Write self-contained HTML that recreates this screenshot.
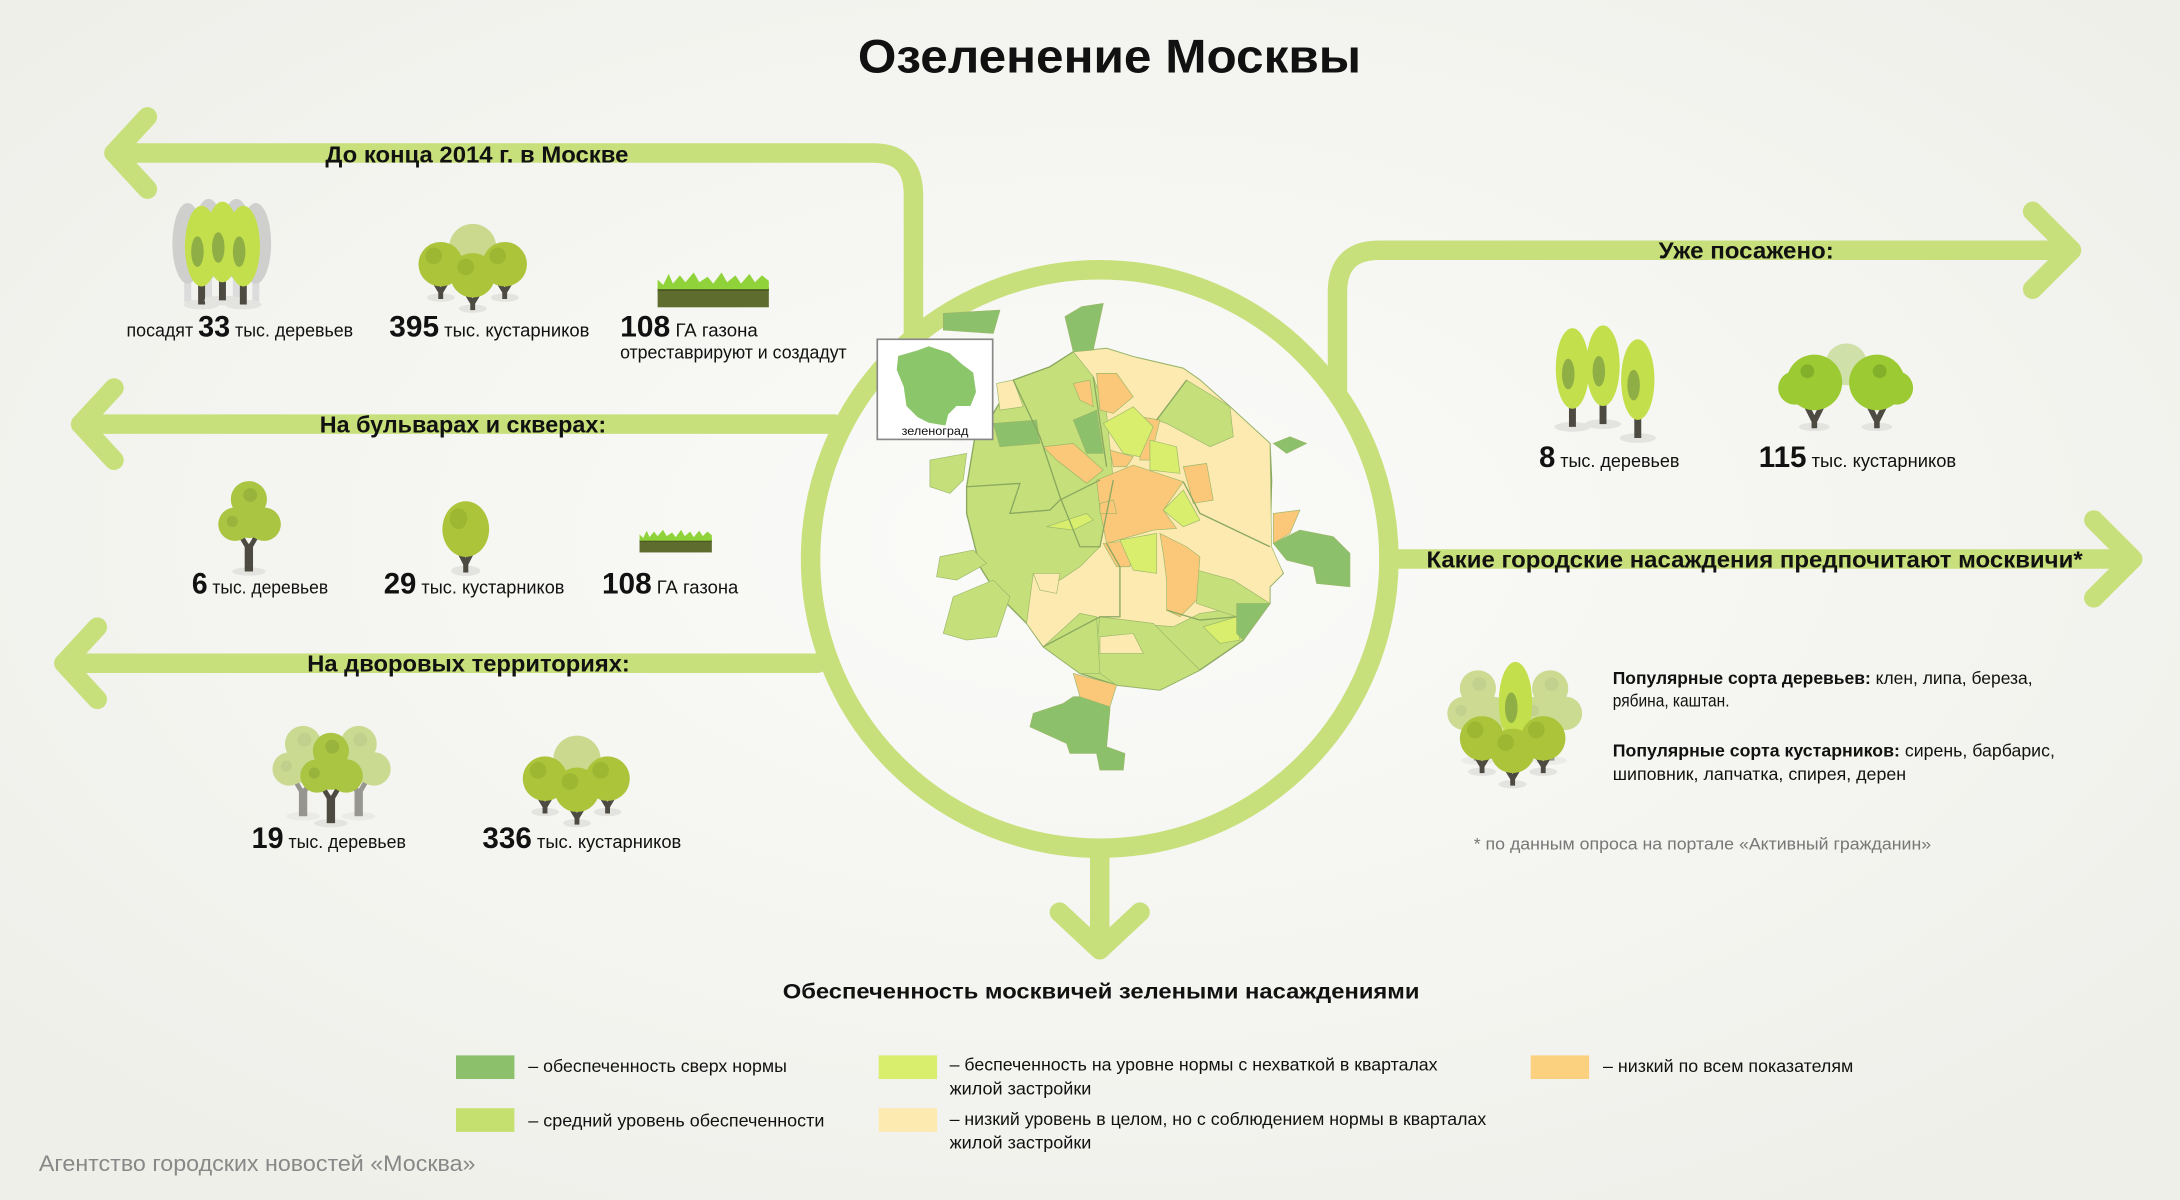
<!DOCTYPE html>
<html><head><meta charset="utf-8"><style>
html,body{margin:0;padding:0;background:#f3f3ef}
svg{display:block}
text{font-family:"Liberation Sans","DejaVu Sans",sans-serif;fill:#111}
.b{font-weight:bold}
</style></head><body>
<svg width="2180" height="1200" viewBox="0 0 1568 863" preserveAspectRatio="none" xmlns="http://www.w3.org/2000/svg">
<defs>
<radialGradient id="bg" cx="50%" cy="45%" r="65%">
<stop offset="0" stop-color="#fbfbf9"/><stop offset="1" stop-color="#efefea"/></radialGradient>
<g id="pop"><ellipse cx="0" cy="2" rx="13" ry="3.5" fill="#e3e3e0"/><rect x="-2.5" y="-18" width="5" height="20" fill="#4d4a42"/><path d="M0 -12 L5 -20" stroke="#4d4a42" stroke-width="3"/><ellipse cx="0" cy="-40" rx="12" ry="29" fill="#c3df4c"/><ellipse cx="-3" cy="-36" rx="4.5" ry="11" fill="#8fae45"/></g>
<g id="gpop"><rect x="-2.5" y="-18" width="5" height="20" fill="#dcdcdc"/><ellipse cx="0" cy="-40" rx="11" ry="29" fill="#cfcfcd"/></g>
<g id="shr"><ellipse cx="0" cy="2" rx="10" ry="3" fill="#e3e3e0"/><path d="M-6 -12 L0 -2 L6 -12 M0 -2 L0 3" stroke="#4d4a42" stroke-width="3.5" fill="none"/><circle cx="0" cy="-22" r="16" fill="#abc43a"/><circle cx="-5" cy="-28" r="6" fill="#9db733"/></g>
<g id="lshr"><circle cx="0" cy="-22" r="17" fill="#cbd98f"/></g>
<g id="rtree"><ellipse cx="0" cy="2" rx="12" ry="3" fill="#e3e3e0"/><rect x="-3" y="-18" width="6" height="20" fill="#4d4a42"/><path d="M0 -14 L-6 -24 M0 -14 L7 -26" stroke="#4d4a42" stroke-width="3.5"/><circle cx="0" cy="-50" r="13" fill="#a9c542"/><circle cx="-10" cy="-32" r="12" fill="#a9c542"/><circle cx="11" cy="-32" r="12" fill="#a9c542"/><circle cx="0" cy="-36" r="14" fill="#a9c542"/><circle cx="1" cy="-53" r="5" fill="#98b43c"/><circle cx="-12" cy="-34" r="4" fill="#98b43c"/></g>
<g id="grass"><rect x="0" y="8" width="80" height="14" fill="#5e6c2e"/><rect x="0" y="8" width="80" height="2" fill="#3e4a1c"/><path d="M0 9 L0 2 L4 6 L8 -2 L11 5 L16 -1 L20 4 L26 -3 L30 4 L36 0 L40 5 L46 -3 L50 4 L56 -1 L60 5 L66 -2 L70 4 L75 -1 L80 3 L80 9 Z" fill="#8fd23a"/></g>
</defs>
<rect width="1568" height="863" fill="url(#bg)"/>

<!-- connectors -->
<g stroke="#c8e07b" stroke-width="14" fill="none" stroke-linecap="round" stroke-linejoin="round">
<circle cx="791" cy="402" r="208"/>
<path d="M82 110 L628 110 Q657 110 657 140 L657 252"/>
<path d="M106 84 L82 110 L106 136"/>
<path d="M58 305 L600 305"/>
<path d="M82 279 L58 305 L82 331"/>
<path d="M46 477 L588 477"/>
<path d="M70 451 L46 477 L70 503"/>
<path d="M962 282 L962 210 Q962 180 992 180 L1488 180"/>
<path d="M1462 152 L1490 180 L1462 208"/>
<path d="M999 402 L1532 402"/>
<path d="M1506 374 L1534 402 L1506 430"/>
<path d="M791 610 L791 682"/>
<path d="M762 656 L791 683 L820 656"/>
</g>

<!-- map -->
<g transform="translate(647.3,201.4) scale(0.23975)" stroke="#9bb86a" stroke-width="2">
<path d="M200 620 L230 440 L280 400 L340 300 L450 260 L520 215 L620 205 L700 230 L850 265 L900 300 L990 380 L1110 490 L1115 600 L1110 800 L1150 880 L1110 920 L1110 970 L1030 1080 L900 1170 L780 1230 L650 1215 L540 1180 L430 1100 L380 1030 L290 940 L240 860 L200 700 Z" fill="#c5e07a" stroke="#8aa860" stroke-width="4"/>
<path d="M520 215 L620 205 L700 230 L850 265 L900 300 L990 380 L1110 490 L1115 800 L1150 880 L1110 920 L1110 970 L900 1000 L820 1040 L700 1030 L600 1010 L430 1100 L380 1030 L400 880 L480 900 L540 860 L600 800 L640 600 L620 400 L580 290 Z" fill="#fdeab0"/>
<path d="M290 310 L340 300 L370 380 L300 390 Z" fill="#fdeab0"/>
<path d="M770 420 L860 300 L990 380 L1000 470 L930 500 L800 430 Z" fill="#c5e07a"/>
<path d="M600 1010 L760 1030 L900 1170 L780 1230 L650 1215 L600 1180 L590 1100 Z" fill="#c5e07a"/>
<path d="M430 1100 L540 1180 L600 1180 L590 1010 L540 1000 Z" fill="#c5e07a"/>
<path d="M890 870 L1000 900 L1110 970 L1010 1010 L890 970 Z" fill="#c5e07a"/>
<path d="M600 1070 L700 1060 L730 1120 L600 1120 Z" fill="#fdeab0"/>
<path d="M400 880 L480 880 L470 940 L420 930 Z" fill="#fdeab0"/>
<path d="M590 600 L700 555 L850 605 L790 690 L830 745 L760 750 L620 790 L600 690 Z" fill="#fbc87a"/>
<path d="M780 760 L860 800 L900 830 L890 960 L840 1010 L800 990 L800 900 L790 820 Z" fill="#fbc87a"/>
<path d="M610 790 L700 780 L690 860 L650 860 Z" fill="#fbc87a"/>
<path d="M520 310 L570 300 L580 380 L540 360 Z" fill="#fbc87a"/>
<path d="M590 280 L650 280 L700 350 L640 400 L600 390 Z" fill="#fbc87a"/>
<path d="M430 500 L520 490 L610 570 L560 610 L470 540 Z" fill="#fbc87a"/>
<path d="M720 410 L780 420 L750 540 L720 540 Z" fill="#fbc87a"/>
<path d="M850 560 L920 550 L940 660 L880 670 Z" fill="#fbc87a"/>
<path d="M630 510 L700 530 L680 560 L640 560 Z" fill="#fbc87a"/>
<path d="M600 670 L640 660 L650 700 L600 700 Z" fill="#fbc87a"/>
<path d="M610 430 L700 380 L760 440 L720 530 L670 520 Z" fill="#d8ee6c"/>
<path d="M750 480 L830 500 L840 580 L750 570 Z" fill="#d8ee6c"/>
<path d="M790 690 L850 630 L900 720 L850 740 Z" fill="#d8ee6c"/>
<path d="M440 740 L560 700 L580 720 L520 750 Z" fill="#d8ee6c"/>
<path d="M660 780 L770 760 L770 880 L700 870 Z" fill="#d8ee6c"/>
<path d="M910 1040 L1010 1010 L1020 1080 L960 1090 Z" fill="#d8ee6c"/>
<path d="M520 420 L590 390 L610 520 L560 520 Z" fill="#8cc06a"/>
<path d="M280 430 L410 420 L420 490 L300 500 Z" fill="#8cc06a"/>
<path d="M1010 970 L1110 970 L1030 1080 L1010 1060 Z" fill="#8cc06a"/>
<path d="M495 110 L545 80 L610 70 L580 210 L520 215 Z" fill="#8cc06a"/>
<path d="M130 100 L300 90 L280 160 L130 150 Z" fill="#8cc06a"/>
<path d="M1120 790 L1200 750 L1300 770 L1350 820 L1350 920 L1250 910 L1240 860 L1160 840 Z" fill="#8cc06a"/>
<path d="M1120 490 L1170 470 L1220 490 L1160 520 Z" fill="#8cc06a"/>
<path d="M520 1250 L630 1250 L630 1290 L620 1400 L675 1420 L670 1470 L600 1470 L590 1420 L510 1420 L500 1390 L390 1340 L400 1300 L490 1270 Z" fill="#8cc06a"/>
<path d="M520 1180 L650 1215 L630 1280 L540 1250 Z" fill="#fbc87a"/>
<path d="M1120 700 L1200 690 L1170 760 L1120 790 Z" fill="#fbc87a"/>
<path d="M160 420 L250 420 L240 460 L180 480 Z" fill="#fbc87a"/>
<path d="M90 540 L200 520 L190 600 L150 640 L90 620 Z" fill="#c5e07a"/>
<path d="M120 830 L220 810 L260 850 L170 900 L110 890 Z" fill="#c5e07a"/>
<path d="M160 950 L280 900 L330 950 L290 1070 L200 1080 L130 1060 Z" fill="#c5e07a"/>
<g fill="none" stroke="#8aa860" stroke-width="4">
<path d="M200 620 L360 610 L330 700 L450 690 L480 660 L600 600"/>
<path d="M340 300 L420 470 L480 650 L540 800 L600 800 L640 600"/>
<path d="M620 790 L660 860 L660 1010 L600 1010 L430 1100"/>
<path d="M850 605 L900 700 L1110 800"/>
<path d="M580 290 L620 560 M860 300 L770 420"/>
<path d="M800 990 L900 1020 L1010 1010"/>
</g>
</g>
<!-- zelenograd inset -->
<rect x="631" y="244" width="83" height="72" fill="#fff" stroke="#888" stroke-width="1.2"/>
<path d="M646 256 L660 252 L668 249 L683 254 L692 262 L700 268 L702 282 L698 292 L688 292 L682 298 L680 306 L668 304 L660 300 L652 292 L650 278 L645 266 Z" fill="#8cc66a"/>
<text x="672.5" y="313" font-size="8.5" text-anchor="middle" textLength="48" lengthAdjust="spacingAndGlyphs">зеленоград</text>

<!-- title -->
<text x="798" y="52" font-size="34" class="b" text-anchor="middle" textLength="362" lengthAdjust="spacingAndGlyphs">Озеленение Москвы</text>

<!-- headings -->
<text x="343" y="117" font-size="16.5" class="b" text-anchor="middle" textLength="218" lengthAdjust="spacingAndGlyphs">До конца 2014 г. в Москве</text>
<text x="333" y="311" font-size="16.5" class="b" text-anchor="middle" textLength="206" lengthAdjust="spacingAndGlyphs">На бульварах и скверах:</text>
<text x="337" y="483" font-size="16.5" class="b" text-anchor="middle" textLength="232" lengthAdjust="spacingAndGlyphs">На дворовых территориях:</text>
<text x="1256" y="186" font-size="16.5" class="b" text-anchor="middle" textLength="126" lengthAdjust="spacingAndGlyphs">Уже посажено:</text>
<text x="1026" y="408" font-size="16.5" class="b" textLength="472" lengthAdjust="spacingAndGlyphs">Какие городские насаждения предпочитают москвичи*</text>

<!-- group 1 icons -->
<use href="#gpop" x="135" y="215"/><use href="#gpop" x="150" y="212"/><use href="#gpop" x="170" y="212"/><use href="#gpop" x="184" y="215"/>
<use href="#pop" x="145" y="217"/><use href="#pop" x="160" y="214"/><use href="#pop" x="175" y="217"/>
<use href="#lshr" x="340" y="200"/>
<use href="#shr" x="317" y="212"/><use href="#shr" x="363" y="212"/><use href="#shr" x="340" y="220"/>
<use href="#grass" x="473" y="199"/>
<text x="91" y="242" font-size="13" textLength="163" lengthAdjust="spacingAndGlyphs">посадят <tspan class="b" font-size="21">33</tspan> тыс. деревьев</text>
<text x="280" y="242" font-size="13" textLength="144" lengthAdjust="spacingAndGlyphs"><tspan class="b" font-size="21">395</tspan> тыс. кустарников</text>
<text x="446" y="242" font-size="13" textLength="99" lengthAdjust="spacingAndGlyphs"><tspan class="b" font-size="21">108</tspan> ГА газона</text>
<text x="446" y="258" font-size="13" textLength="163" lengthAdjust="spacingAndGlyphs">отреставрируют и создадут</text>

<!-- group 2 -->
<use href="#rtree" x="179" y="409"/>
<use href="#shr" x="335" y="408" transform="translate(335 408) scale(1.05 1.25) translate(-335 -408)"/>
<use href="#grass" transform="translate(460 383) scale(0.65)"/>
<text x="138" y="427" font-size="13" textLength="98" lengthAdjust="spacingAndGlyphs"><tspan class="b" font-size="21">6</tspan> тыс. деревьев</text>
<text x="276" y="427" font-size="13" textLength="130" lengthAdjust="spacingAndGlyphs"><tspan class="b" font-size="21">29</tspan> тыс. кустарников</text>
<text x="433" y="427" font-size="13" textLength="98" lengthAdjust="spacingAndGlyphs"><tspan class="b" font-size="21">108</tspan> ГА газона</text>

<!-- group 3 -->
<g opacity="0.55"><use href="#rtree" x="218" y="585"/><use href="#rtree" x="258" y="585"/></g>
<use href="#rtree" x="238" y="590"/>
<use href="#lshr" x="415" y="568"/>
<use href="#shr" x="392" y="582"/><use href="#shr" x="437" y="582"/><use href="#shr" x="415" y="590"/>
<text x="181" y="610" font-size="13" textLength="111" lengthAdjust="spacingAndGlyphs"><tspan class="b" font-size="21">19</tspan> тыс. деревьев</text>
<text x="347" y="610" font-size="13" textLength="143" lengthAdjust="spacingAndGlyphs"><tspan class="b" font-size="21">336</tspan> тыс. кустарников</text>

<!-- right planted -->
<use href="#pop" x="1131" y="305"/><use href="#pop" x="1153" y="303"/><use href="#pop" x="1178" y="313"/>
<circle cx="1328" cy="262" r="15" fill="#cfe0a8"/>
<g transform="translate(1305 305)"><ellipse cx="0" cy="2" rx="11" ry="3" fill="#e3e3e0"/><path d="M-6 -14 L0 -2 L6 -14 M0 -2 L0 3" stroke="#4d4a42" stroke-width="4" fill="none"/><circle cx="0" cy="-30" r="20" fill="#9cca33"/><circle cx="-14" cy="-26" r="12" fill="#9cca33"/><circle cx="-5" cy="-38" r="5" fill="#83b02a"/></g>
<g transform="translate(1350 305)"><ellipse cx="0" cy="2" rx="11" ry="3" fill="#e3e3e0"/><path d="M-6 -14 L0 -2 L6 -14 M0 -2 L0 3" stroke="#4d4a42" stroke-width="4" fill="none"/><circle cx="0" cy="-30" r="20" fill="#9cca33"/><circle cx="14" cy="-26" r="12" fill="#9cca33"/><circle cx="2" cy="-38" r="5" fill="#83b02a"/></g>
<text x="1107" y="336" font-size="13" textLength="101" lengthAdjust="spacingAndGlyphs"><tspan class="b" font-size="21">8</tspan> тыс. деревьев</text>
<text x="1265" y="336" font-size="13" textLength="142" lengthAdjust="spacingAndGlyphs"><tspan class="b" font-size="21">115</tspan> тыс. кустарников</text>

<!-- preferences -->
<g opacity="0.55"><use href="#rtree" x="1063" y="545"/><use href="#rtree" x="1115" y="545"/></g>
<use href="#pop" x="1090" y="545"/>
<use href="#shr" x="1066" y="553"/><use href="#shr" x="1110" y="553"/><use href="#shr" x="1088" y="562"/>
<text x="1160" y="492" font-size="12.5" textLength="302" lengthAdjust="spacingAndGlyphs"><tspan class="b">Популярные сорта деревьев:</tspan> клен, липа, береза,</text>
<text x="1160" y="508" font-size="12.5" textLength="84" lengthAdjust="spacingAndGlyphs">рябина, каштан.</text>
<text x="1160" y="544" font-size="12.5" textLength="318" lengthAdjust="spacingAndGlyphs"><tspan class="b">Популярные сорта кустарников:</tspan> сирень, барбарис,</text>
<text x="1160" y="561" font-size="12.5" textLength="211" lengthAdjust="spacingAndGlyphs">шиповник, лапчатка, спирея, дерен</text>
<text x="1060" y="611" font-size="12" fill="#777" style="fill:#777" textLength="329" lengthAdjust="spacingAndGlyphs">* по данным опроса на портале «Активный гражданин»</text>

<!-- legend -->
<text x="792" y="718" font-size="15.5" class="b" text-anchor="middle" textLength="458" lengthAdjust="spacingAndGlyphs">Обеспеченность москвичей зелеными насаждениями</text>
<rect x="328" y="759" width="42" height="17" fill="#8cc06a"/>
<rect x="328" y="797" width="42" height="17" fill="#c5e06e"/>
<rect x="632" y="759" width="42" height="17" fill="#d8ee6c"/>
<rect x="632" y="797" width="42" height="17" fill="#fdeab0"/>
<rect x="1101" y="759" width="42" height="17" fill="#fbd07f"/>
<text x="380" y="771" font-size="12.5" textLength="186" lengthAdjust="spacingAndGlyphs">– обеспеченность сверх нормы</text>
<text x="380" y="810" font-size="12.5" textLength="213" lengthAdjust="spacingAndGlyphs">– средний уровень обеспеченности</text>
<text x="683" y="770" font-size="12.5" textLength="351" lengthAdjust="spacingAndGlyphs">– беспеченность на уровне нормы с нехваткой в кварталах</text>
<text x="683" y="787" font-size="12.5" textLength="102" lengthAdjust="spacingAndGlyphs">жилой застройки</text>
<text x="683" y="809" font-size="12.5" textLength="386" lengthAdjust="spacingAndGlyphs">– низкий уровень в целом, но с соблюдением нормы в кварталах</text>
<text x="683" y="826" font-size="12.5" textLength="102" lengthAdjust="spacingAndGlyphs">жилой застройки</text>
<text x="1153" y="771" font-size="12.5" textLength="180" lengthAdjust="spacingAndGlyphs">– низкий по всем показателям</text>
<text x="28" y="842" font-size="16" style="fill:#888" textLength="314" lengthAdjust="spacingAndGlyphs">Агентство городских новостей «Москва»</text>
</svg>
</body></html>
